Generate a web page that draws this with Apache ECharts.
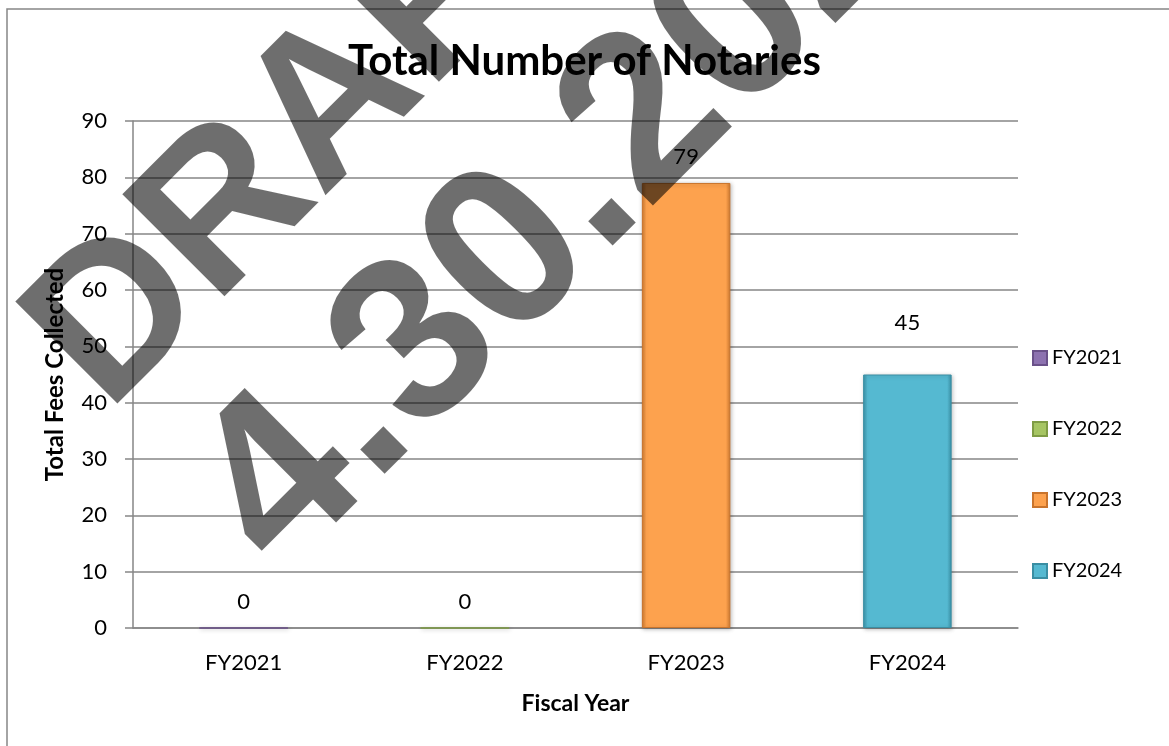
<!DOCTYPE html>
<html>
<head>
<meta charset="utf-8">
<script src="https://cdn.jsdelivr.net/npm/echarts@6/dist/echarts.min.js"></script>
<style>
  html, body { margin: 0; padding: 0; background: #ffffff; }
  #chart { width: 1169px; height: 746px; }
</style>
</head>
<body>
<div id="chart"></div>
<script>
const categories = ['FY2021', 'FY2022', 'FY2023', 'FY2024'];
const seriesNames = ['FY2021', 'FY2022', 'FY2023', 'FY2024'];
const values = [0, 0, 79, 45];
const yTicks = { min: 0, max: 90, interval: 10 };
const titleText = 'Total Number of Notaries';
const yAxisTitle = 'Total Fees Collected';
const xAxisTitle = 'Fiscal Year';
const watermarkLines = ['DRAFT', '4.30.2024'];

const FONT = 'Lato, Carlito, Calibri, "Open Sans", sans-serif';
const WM_FONT = '"Liberation Sans", Arial, sans-serif';

function bevel(mid, edge) {
  return {
    type: 'linear', x: 0, y: 0, x2: 1, y2: 0,
    colorStops: [
      { offset: 0, color: edge },
      { offset: 0.05, color: mid },
      { offset: 0.95, color: mid },
      { offset: 1, color: edge }
    ]
  };
}
const palette = [
  bevel('#8d72b0', '#6a5189'),
  bevel('#a6c563', '#7f9c45'),
  bevel('#fda24e', '#d07a30'),
  bevel('#55b9d1', '#3b93a9')
];
const borders = ['#6a5189', '#7f9c45', '#c9742c', '#3a8ea3'];
const labelDistances = [15, 15, 15, 41];

const series = seriesNames.map((name, i) => ({
  name: name,
  type: 'bar',
  stack: 'total',
  barWidth: '40%',
  data: categories.map((c, j) => (j === i ? values[i] : '-')),
  itemStyle: {
    color: palette[i],
    borderColor: borders[i],
    borderWidth: 1,
    shadowColor: 'rgba(0,0,0,0.25)',
    shadowBlur: 4,
    shadowOffsetX: 1,
    shadowOffsetY: 1
  },
  label: {
    show: true,
    position: 'top',
    distance: labelDistances[i],
    color: '#000',
    fontFamily: FONT,
    fontSize: 22
  }
}));

const chart = echarts.init(document.getElementById('chart'), null, { renderer: 'canvas' });
chart.setOption({
  backgroundColor: '#ffffff',
  animation: false,
  title: {
    text: titleText,
    left: 'center',
    top: 35,
    textStyle: { fontFamily: FONT, fontWeight: 'bold', fontSize: 42, color: '#000' }
  },
  legend: {
    orient: 'vertical',
    left: 1027,
    top: 343,
    itemWidth: 14,
    itemHeight: 14,
    itemGap: 51,
    icon: 'rect',
    textStyle: { fontFamily: FONT, fontSize: 20, color: '#000', padding: 0 },
    data: seriesNames
  },
  grid: { left: 133, right: 151, top: 121, bottom: 118, containLabel: false },
  xAxis: {
    type: 'category',
    data: categories,
    name: xAxisTitle,
    nameLocation: 'middle',
    nameGap: 64,
    nameTextStyle: { fontFamily: FONT, fontWeight: 'bold', fontSize: 23, color: '#000' },
    axisLine: { lineStyle: { color: '#868686', width: 1.5 } },
    axisTick: { show: false },
    axisLabel: { fontFamily: FONT, fontSize: 22, color: '#000', margin: 24 }
  },
  yAxis: {
    type: 'value',
    min: yTicks.min,
    max: yTicks.max,
    interval: yTicks.interval,
    name: yAxisTitle,
    nameLocation: 'middle',
    nameGap: 66,
    nameTextStyle: { fontFamily: FONT, fontWeight: 'bold', fontSize: 24, color: '#000' },
    axisLine: { show: true, lineStyle: { color: '#868686', width: 1.5 } },
    axisTick: { show: true, length: 8, lineStyle: { color: '#868686', width: 1.5 } },
    splitLine: { lineStyle: { color: '#868686', width: 1.5 } },
    axisLabel: { fontFamily: FONT, fontSize: 22, color: '#000', margin: 26 }
  },
  series: series,
  graphic: [
    {
      type: 'rect', z: 0, silent: true,
      shape: { x: 7, y: 9, width: 1200, height: 800 },
      style: { fill: 'none', stroke: '#868686', lineWidth: 1.5 }
    },
    {
      type: 'text', z: 200, silent: true,
      x: 318, y: 121, rotation: Math.PI / 4,
      style: {
        text: watermarkLines[0], fill: 'rgba(0,0,0,0.57)',
        font: 'bold 210px ' + WM_FONT, align: 'center', verticalAlign: 'middle'
      }
    },
    {
      type: 'text', z: 200, silent: true,
      x: 602, y: 166, rotation: Math.PI / 4,
      style: {
        text: watermarkLines[1], fill: 'rgba(0,0,0,0.57)',
        font: 'bold 232px ' + WM_FONT, align: 'center', verticalAlign: 'middle'
      }
    }
  ]
});
</script>
</body>
</html>
